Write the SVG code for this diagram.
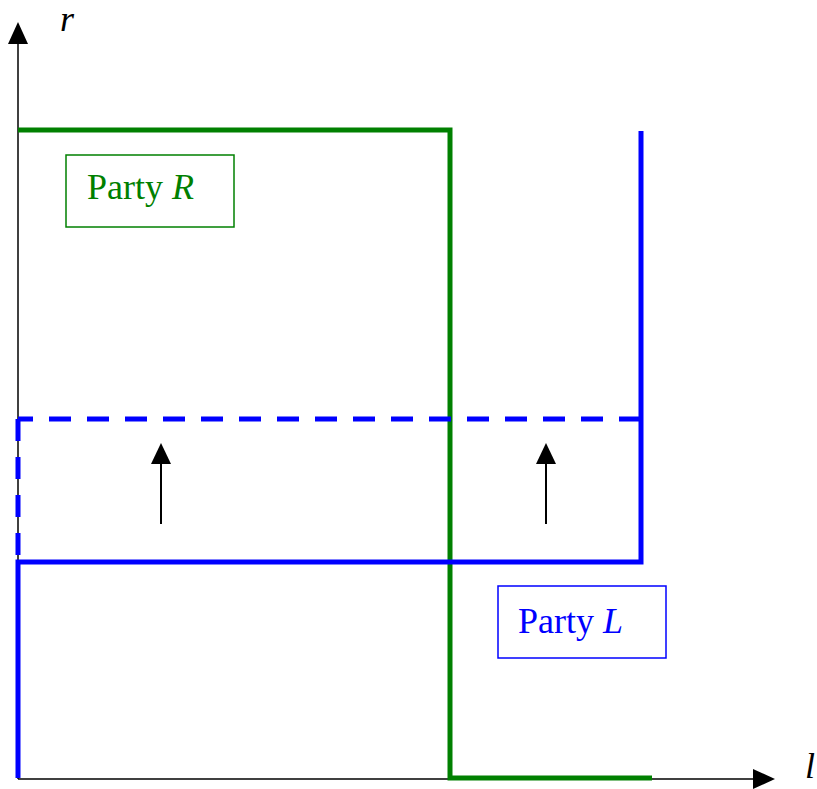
<svg xmlns="http://www.w3.org/2000/svg" width="817" height="789" viewBox="0 0 817 789">
<style>
.axis{stroke:#000;stroke-width:1.5;fill:none}
.green{stroke:#008000;stroke-width:5;fill:none}
.blue{stroke:#0000FF;stroke-width:5;fill:none}
.dash{stroke-dasharray:22 16}
.lbl{font-family:"Liberation Serif","Times New Roman",serif;font-size:36px}
.arr{stroke:#000;stroke-width:2;fill:none}
</style>
<rect width="817" height="789" fill="#fff"/>
<g id="connectors">
<line class="axis" x1="18" y1="779" x2="18" y2="44"/>
<polygon points="18,22 8,44 28,44" fill="#000"/>
<line class="axis" x1="18" y1="779" x2="753" y2="779"/>
<polygon points="775,779 753,769 753,789" fill="#000"/>
<polyline class="green" points="18,130 450,130 450,778 652,778"/>
<polyline class="blue" points="641,131 641,562 18,562 18,778"/>
<polyline class="blue dash" points="641,419 18,419"/>
<line class="blue dash" x1="18" y1="419" x2="18" y2="562"/>
<line class="arr" x1="161" y1="524" x2="161" y2="464"/>
<polygon points="161,443 151,464 171,464" fill="#000"/>
<line class="arr" x1="546" y1="524" x2="546" y2="464"/>
<polygon points="546,443 536,464 556,464" fill="#000"/>
</g>
<g id="axis-r"><text class="lbl" x="60" y="31" font-style="italic">r</text></g>
<g id="axis-l"><text class="lbl" x="805" y="778" font-style="italic">l</text></g>
<g id="partyR">
<rect x="66" y="155" width="168" height="72" fill="none" stroke="#008000" stroke-width="1.5"/>
<text class="lbl" x="87" y="199" fill="#008000">Party <tspan font-style="italic">R</tspan></text>
</g>
<g id="partyL">
<rect x="498" y="586" width="168" height="72" fill="none" stroke="#0000FF" stroke-width="1.5"/>
<text class="lbl" x="518" y="633" fill="#0000FF">Party <tspan font-style="italic">L</tspan></text>
</g>
</svg>
